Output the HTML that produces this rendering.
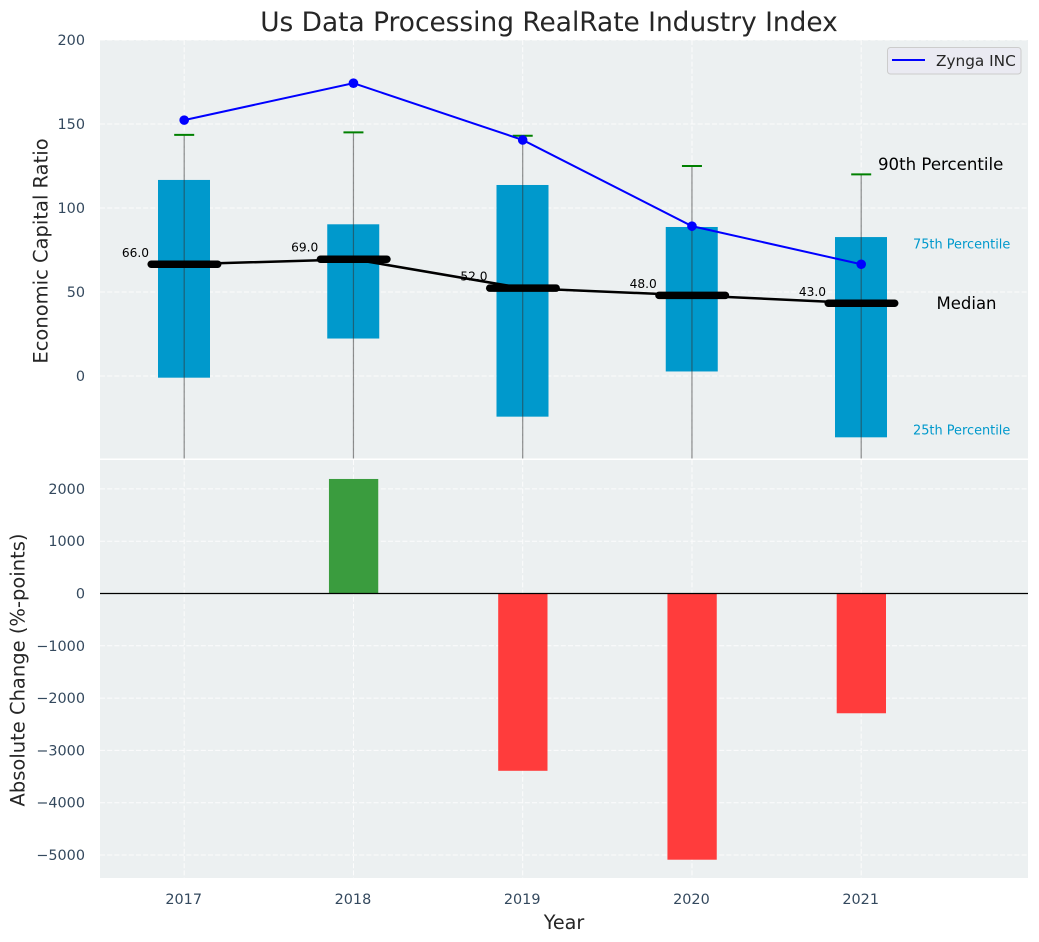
<!DOCTYPE html>
<html lang="en">
<head>
<meta charset="utf-8">
<title>Us Data Processing RealRate Industry Index</title>
<style>
html,body{margin:0;padding:0;background:#fff;}
svg{display:block;font-family:"DejaVu Sans","Liberation Sans",sans-serif;}
</style>
</head>
<body>
<svg id="chart" xmlns="http://www.w3.org/2000/svg" width="1039" height="942" viewBox="0 0 1039 942"></svg>
<script>
const years = [2017, 2018, 2019, 2020, 2021];
const p90 = [143.5, 145, 143, 125, 120];
const p75 = [116.7, 90.3, 113.7, 88.7, 82.7];
const medians = [66.5, 69.5, 52.3, 48, 43.3];
const medianLabels = ["66.0", "69.0", "52.0", "48.0", "43.0"];
const p25 = [-1, 22.3, -24.2, 2.7, -36.5];
const p10 = [-80, -60, -90, -70, -100];
const zynga = [152.3, 174.3, 140.5, 89.2, 66.5];
const changes = [0, 2190, -3390, -5090, -2290];
const topTicks = [0, 50, 100, 150, 200];
const bottomTicks = [-5000, -4000, -3000, -2000, -1000, 0, 1000, 2000];

const NS = 'http://www.w3.org/2000/svg';
const svg = document.getElementById('chart');
const X = v => 184.2 + (v - 2017) * 169.25;
const YT = v => 376 - v * 1.68;
const YB = v => 593.5 - v * 0.0523;
const L = 100, R = 1028, T0 = 40, T1 = 458.5, B0 = 460, B1 = 878;

function mk(tag, attrs, parent) {
  const e = document.createElementNS(NS, tag);
  for (const k in attrs) e.setAttribute(k, attrs[k]);
  (parent || svg).appendChild(e);
  return e;
}
function txt(s, attrs, parent) {
  const e = mk('text', attrs, parent);
  e.textContent = s;
  return e;
}
function name(el, n, inter) {
  
  
  return el;
}

const defs = mk('defs', {});
const cp = mk('clipPath', {id: 'clip-top'}, defs);
mk('rect', {x: L, y: T0, width: R - L, height: T1 - T0}, cp);

name(mk('rect', {x: L, y: T0, width: R - L, height: T1 - T0, fill: '#ecf0f1'}), 'top-panel-background', false);
name(mk('rect', {x: L, y: B0, width: R - L, height: B1 - B0, fill: '#ecf0f1'}), 'bottom-panel-background', false);

const gridG = name(mk('g', {stroke: '#fff', 'stroke-width': 1, 'stroke-dasharray': '5 2.2', opacity: 0.85, fill: 'none'}), 'grid', false);
years.forEach(y => {
  mk('line', {x1: X(y), x2: X(y), y1: T0, y2: T1}, gridG);
  mk('line', {x1: X(y), x2: X(y), y1: B0, y2: B1}, gridG);
});
topTicks.forEach(t => {
  mk('line', {x1: L, x2: R, y1: YT(t), y2: YT(t)}, gridG);
});
bottomTicks.forEach(t => {
  mk('line', {x1: L, x2: R, y1: YB(t), y2: YB(t)}, gridG);
});

const topG = name(mk('g', {'clip-path': 'url(#clip-top)'}), 'box-plot', false);
years.forEach((y, i) => {
  const box = mk('rect', {x: X(y) - 26.2, width: 52, y: YT(p75[i]), height: YT(p25[i]) - YT(p75[i]), fill: '#0099cc'}, topG);
  
  
  const wh = mk('line', {x1: X(y), x2: X(y), y1: YT(p90[i]), y2: YT(p10[i]), stroke: '#333', 'stroke-opacity': 0.55, 'stroke-width': 1.2}, topG);
  
  
  const cap = mk('line', {x1: X(y) - 10, x2: X(y) + 10, y1: YT(p90[i]), y2: YT(p90[i]), stroke: '#008000', 'stroke-width': 2}, topG);
  
  
});

const medPts = years.map((y, i) => X(y) + ',' + YT(medians[i])).join(' ');
name(mk('polyline', {points: medPts, fill: 'none', stroke: '#000', 'stroke-width': 2.5}, topG), 'median-line', false);
years.forEach((y, i) => {
  const m = mk('line', {x1: X(y) - 33, x2: X(y) + 33.5, y1: YT(medians[i]), y2: YT(medians[i]), stroke: '#000', 'stroke-width': 7.5, 'stroke-linecap': 'round'}, topG);
  
  
  const lb = txt(medianLabels[i], {x: X(y) - 35.2, y: YT(medians[i]) - 7.5, 'font-size': 12.2, fill: '#000', 'text-anchor': 'end'}, topG);
  
  
});

const zyPts = years.map((y, i) => X(y) + ',' + YT(zynga[i])).join(' ');
name(mk('polyline', {points: zyPts, fill: 'none', stroke: '#0000ff', 'stroke-width': 2}, topG), 'zynga-line', false);
years.forEach((y, i) => {
  const p = mk('circle', {cx: X(y), cy: YT(zynga[i]), r: 4.8, fill: '#0000ff'}, topG);
  
  
});

name(txt('90th Percentile', {x: 878, y: 170, 'font-size': 16.6, fill: '#000'}), 'label-90th-percentile', false);
name(txt('75th Percentile', {x: 913, y: 248.5, 'font-size': 12.9, fill: '#0099cc'}), 'label-75th-percentile', false);
name(txt('Median', {x: 936.5, y: 309, 'font-size': 16.5, fill: '#000'}), 'label-median', false);
name(txt('25th Percentile', {x: 913, y: 434.5, 'font-size': 12.9, fill: '#0099cc'}), 'label-25th-percentile', false);

const barsG = name(mk('g', {}), 'change-bars', false);
years.forEach((y, i) => {
  if (changes[i] === 0) return;
  const v = changes[i];
  const b = mk('rect', {x: X(y) - 24.5, width: 49.3, y: Math.min(YB(v), YB(0)), height: Math.abs(YB(v) - YB(0)), fill: v > 0 ? '#3a9c3e' : '#ff3c3c'}, barsG);
  
  
});
name(mk('line', {x1: L, x2: R, y1: YB(0), y2: YB(0), stroke: '#000', 'stroke-width': 1.3}), 'zero-line', false);

const tickCol = '#34495e';
topTicks.forEach(t => {
  const e = txt(String(t), {x: 85, y: YT(t) + 5, 'font-size': 14.4, fill: tickCol, 'text-anchor': 'end'});
  
  
});
bottomTicks.forEach(t => {
  const e = txt(String(t).replace('-', '\u2212'), {x: 85, y: YB(t) + 5, 'font-size': 14.4, fill: tickCol, 'text-anchor': 'end'});
  
  
});
years.forEach(y => {
  const e = txt(String(y), {x: X(y) - 0.5, y: 904, 'font-size': 14.4, fill: tickCol, 'text-anchor': 'middle'});
  
  
});

name(txt('Us Data Processing RealRate Industry Index', {x: 549, y: 31, 'font-size': 26.4, fill: '#262626', 'text-anchor': 'middle'}), 'chart-title', false);
name(txt('Year', {x: 564, y: 929, 'font-size': 19.2, fill: '#262626', 'text-anchor': 'middle'}), 'x-axis-title', false);
name(txt('Economic Capital Ratio', {x: 0, y: 0, 'font-size': 19.5, fill: '#262626', 'text-anchor': 'middle', transform: 'translate(47.5 251) rotate(-90)'}), 'y-axis-title-top', false);
name(txt('Absolute Change (%-points)', {x: 0, y: 0, 'font-size': 19.5, fill: '#262626', 'text-anchor': 'middle', transform: 'translate(24.5 670) rotate(-90)'}), 'y-axis-title-bottom', false);

const lg = name(mk('g', {}), 'legend', false);
mk('rect', {x: 887.5, y: 47.5, width: 133.5, height: 26.5, rx: 3, fill: '#eaeaf2', stroke: '#cccccc', 'stroke-width': 1}, lg);
name(mk('line', {x1: 892, x2: 925, y1: 60, y2: 60, stroke: '#0000ff', 'stroke-width': 2}, lg), 'legend-line', false);
name(txt('Zynga INC', {x: 936, y: 66, 'font-size': 15.3, fill: '#262626'}, lg), 'legend-label', false);
</script>
</body>
</html>
